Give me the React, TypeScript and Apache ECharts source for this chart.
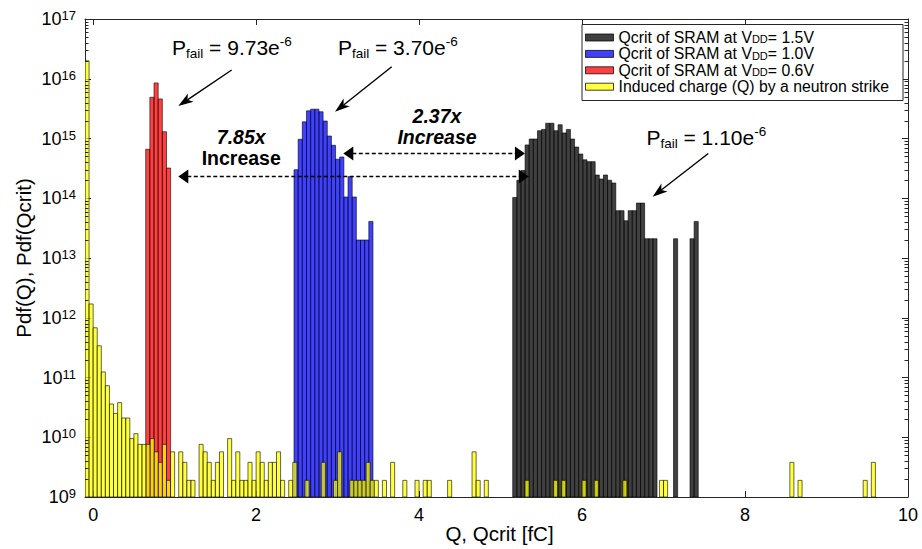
import React, { useEffect, useRef } from "react";
import * as echarts from "echarts";

const FONT = '"Liberation Sans", Arial, Helvetica, sans-serif';
const FRAME = "#262626";

// Axis ranges
const X_MIN = -0.1;
const X_MAX = 10;
const Y_MIN = 1e9;
const Y_MAX = 1e17;
const xTickValues = [0, 2, 4, 6, 8, 10];

// Induced charge histogram (bin width 0.05 fC, first bin starts at -0.1 fC); null = empty bin
const yellowStart = -0.1;
const yellowWidth = 0.05;
const yellowValues: (number | null)[] = [
  2.0e16, 1.7e12, 6.8e11, 3.4e11, 1.24e11, 7.3e10, 3.6e10, 2.5e10, 3.8e10, 2.1e10,
  2.1e10, 9.5e9, 1.15e10, 7.6e9, 7.6e9, 7.6e9, 9.5e9, 5.7e9, 3.8e9, 7.6e9,
  1.9e9, 5.7e9, null, 5.7e9, 3.8e9, 1.9e9, 1.9e9, null, 7.6e9, 5.7e9,
  3.8e9, 1.9e9, 3.8e9, 5.7e9, null, 9.5e9, 1.9e9, 5.7e9, 1.9e9, 1.9e9,
  3.8e9, 1.9e9, 5.7e9, 3.8e9, 1.9e9, 3.8e9, 3.8e9, 5.7e9, 1.9e9, null,
  1.9e9, 3.8e9, null, null, 1.9e9, null, null, null, 3.8e9, null,
  null, 1.9e9, 5.7e9, null, null, 1.9e9, 1.9e9, 1.9e9, 1.9e9, 3.8e9,
  1.9e9, 1.9e9, null, 1.9e9, null, 3.8e9, null, null, 1.9e9, null,
  null, 1.9e9, null, 1.9e9, 1.9e9, null, null, null, null, 1.9e9,
  null, null, null, null, null, 5.7e9, 1.9e9, null, 1.9e9, null,
  null, null, null, null, null, null, null, null, 1.9e9, null,
  null, null, null, null, null, 1.9e9, null, 1.9e9, null, null,
  null, null, 1.9e9, null, null, 1.9e9, null, null, null, null,
  null, null, 1.9e9, null, null, null, null, null, null, null,
  null, 1.9e9, 1.9e9, null, null, null, null, null, null, null,
  null, null, null, null, null, null, null, null, null, null,
  null, null, null, null, null, null, null, null, null, null,
  null, null, null, 3.8e9, null, 1.9e9, null, null, null, null,
  null, null, null, null, null, null, null, null, null, null,
  null, 1.9e9, null, 3.8e9,
];

// Qcrit histograms
const redStart = 0.645;
const redWidth = 0.051;
const redValues: (number | null)[] = [6.6e14, 4.9e15, 8.5e15, 4.6e15, 1.3e15, 3.2e14];

const blueStart = 2.465;
const blueWidth = 0.051;
const blueValues: (number | null)[] = [
  3.0e14, 9.7e14, 1.9e15, 2.9e15, 3.1e15, 3.1e15, 2.8e15, 1.96e15, 1.1e15, 7.7e14,
  4.5e14, 4.9e14, 1.05e14, 2.3e14, 1.05e14, 2.0e13, 2.0e13, 2.0e13, 4.1e13,
];

const blackStart = 5.149;
const blackWidth = 0.0506;
const blackValues: (number | null)[] = [
  1.03e14, 2.0e14, 2.9e14, 7.8e14, 9.8e14, 9.8e14, 1.35e15, 1.42e15, 1.8e15, 1.8e15,
  1.35e15, 1.7e15, 1.24e15, 1.42e15, 9.8e14, 7.2e14, 5.5e14, 4.4e14, 4.1e14, 4.1e14,
  2.45e14, 2.1e14, 2.45e14, 2.0e14, 1.8e14, 6.2e13, 6.2e13, 4.2e13, 6.2e13, 6.2e13,
  8.3e13, 8.3e13, 2.1e13, 2.1e13, 2.1e13, null, null, null, null, 2.1e13,
  null, null, null, 2.1e13, 4.1e13,
];

const seriesNames = [
  "Qcrit of SRAM at VDD= 1.5V",
  "Qcrit of SRAM at VDD= 1.0V",
  "Qcrit of SRAM at VDD= 0.6V",
  "Induced charge (Q) by a neutron strike",
];

// Annotations, anchored in data coordinates [Q, pdf]
const pfailLabels = [
  { value: "9.73e", at: [0.968, 3.3e16] },
  { value: "3.70e", at: [3.004, 3.3e16] },
  { value: "1.10e", at: [6.79, 1.05e15] },
];
const pfailArrows = [
  { from: [1.7, 1.4e16], to: [1.045, 3.5e15] },
  { from: [3.664, 1.59e16], to: [2.968, 2.8e15] },
  { from: [7.549, 5.6e14], to: [6.866, 1.06e14] },
];
const spanArrows = [
  { from: 1.045, to: 5.346, level: 2.38e14 },
  { from: 3.07, to: 5.299, level: 5.65e14 },
];
const ratioLabels = [
  { ratio: "7.85x", at: [1.817, 7.0e14], italicWord: false },
  { ratio: "2.37x", at: [4.22, 1.59e15], italicWord: true },
];

const EDGE = "rgba(0,0,0,0.75)";
const FILLS = ["rgba(0,0,0,0.75)", "rgba(0,0,255,0.75)", "rgba(255,0,0,0.75)", "rgba(255,255,0,0.75)"];

function histogram(start: number, width: number, values: (number | null)[]) {
  const out: number[][] = [];
  values.forEach((v, i) => {
    if (v != null) out.push([start + i * width, start + (i + 1) * width, v]);
  });
  return out;
}

function barRenderer(fill: string) {
  return (_params: any, api: any) => {
    const top = api.coord([api.value(0), api.value(2)]);
    const bottom = api.coord([api.value(1), Y_MIN]);
    return {
      type: "rect",
      shape: { x: top[0], y: top[1], width: bottom[0] - top[0], height: bottom[1] - top[1] },
      style: { fill, stroke: EDGE, lineWidth: 0.8 },
    };
  };
}

function buildOption() {
  const hist = [
    histogram(blackStart, blackWidth, blackValues),
    histogram(blueStart, blueWidth, blueValues),
    histogram(redStart, redWidth, redValues),
    histogram(yellowStart, yellowWidth, yellowValues),
  ];
  const axisLine = { show: true, onZero: false, lineStyle: { color: FRAME, width: 1 } };
  const tick = { show: true, inside: true, length: 6, lineStyle: { color: FRAME, width: 1 } };
  return {
    animation: false,
    backgroundColor: "#fff",
    textStyle: { fontFamily: FONT },
    grid: { left: 85, right: 14, top: 19, bottom: 52, containLabel: false },
    xAxis: [
      {
        type: "value",
        position: "bottom",
        min: X_MIN,
        max: X_MAX,
        splitLine: { show: false },
        axisLine,
        axisTick: { ...tick, customValues: xTickValues },
        axisLabel: {
          customValues: xTickValues,
          fontSize: 18,
          color: "#000",
          fontFamily: FONT,
          margin: 9,
        },
      },
      {
        type: "value",
        position: "top",
        min: X_MIN,
        max: X_MAX,
        splitLine: { show: false },
        axisLine,
        axisTick: { ...tick, customValues: xTickValues },
        axisLabel: { show: false },
      },
    ],
    yAxis: [
      {
        type: "log",
        logBase: 10,
        position: "left",
        min: Y_MIN,
        max: Y_MAX,
        splitNumber: 8,
        splitLine: { show: false },
        axisLine,
        axisTick: tick,
        axisLabel: {
          margin: 9,
          formatter: (v: number) => `{b|10}{sup|${Math.round(Math.log10(v))}}`,
          rich: {
            b: { fontSize: 18, lineHeight: 20, color: "#000", fontFamily: FONT },
            sup: { fontSize: 13, lineHeight: 11, verticalAlign: "top", color: "#000", fontFamily: FONT },
          },
        },
      },
      {
        type: "log",
        logBase: 10,
        position: "right",
        min: Y_MIN,
        max: Y_MAX,
        splitNumber: 8,
        splitLine: { show: false },
        axisLine,
        axisTick: tick,
        axisLabel: { show: false },
      },
    ],
    legend: {
      orient: "vertical",
      left: 585,
      top: 29.5,
      padding: 0,
      itemGap: 0.4,
      itemWidth: 28,
      itemHeight: 7,
      icon: "rect",
      selectedMode: false,
      z: 10,
      data: seriesNames.map((name, i) => ({
        name,
        itemStyle: { color: FILLS[i], borderColor: EDGE, borderWidth: 1 },
      })),
      formatter: (name: string) => name.replace("VDD", "V{sub|DD}"),
      textStyle: {
        fontSize: 15.8,
        lineHeight: 14.4,
        color: "#000",
        fontFamily: FONT,
        rich: {
          sub: { fontSize: 11, lineHeight: 8, verticalAlign: "bottom", color: "#000", fontFamily: FONT },
        },
      },
    },
    series: hist.map((data, i) => ({
      type: "custom",
      name: seriesNames[i],
      xAxisIndex: 0,
      yAxisIndex: 0,
      z: 2,
      clip: true,
      itemStyle: { color: FILLS[i], borderColor: EDGE },
      encode: { x: [0, 1], y: 2 },
      data,
      renderItem: barRenderer(FILLS[i]),
    })),
  };
}

function headPoints(tip: number[], from: number[], len: number, half: number, notch: number) {
  const dx0 = tip[0] - from[0];
  const dy0 = tip[1] - from[1];
  const d = Math.hypot(dx0, dy0) || 1;
  const dx = dx0 / d;
  const dy = dy0 / d;
  const nx = -dy;
  const ny = dx;
  const bx = tip[0] - dx * len;
  const by = tip[1] - dy * len;
  return [
    [tip[0], tip[1]],
    [bx + nx * half, by + ny * half],
    [tip[0] - dx * (len - notch), tip[1] - dy * (len - notch)],
    [bx - nx * half, by - ny * half],
  ];
}

function buildGraphics(chart: echarts.ECharts) {
  const toPx = (p: number[]) =>
    chart.convertToPixel({ xAxisIndex: 0, yAxisIndex: 0 }, p) as unknown as number[];
  const els: any[] = [];
  const left = toPx([X_MIN, Y_MIN])[0];
  const right = toPx([X_MAX, Y_MIN])[0];

  // legend frame
  els.push({
    type: "rect",
    z: 3,
    shape: { x: 582, y: 24.5, width: 321, height: 76 },
    style: { fill: "#fff", stroke: FRAME, lineWidth: 1 },
  });

  // minor ticks of the log axis, on both sides
  for (let e = 9; e < 17; e++) {
    for (let m = 2; m <= 9; m++) {
      const y = Math.round(toPx([0, m * Math.pow(10, e)])[1]) + 0.5;
      els.push({ type: "line", z: 4, shape: { x1: left, y1: y, x2: left + 3.5, y2: y }, style: { stroke: FRAME, lineWidth: 1 } });
      els.push({ type: "line", z: 4, shape: { x1: right - 3.5, y1: y, x2: right, y2: y }, style: { stroke: FRAME, lineWidth: 1 } });
    }
  }

  const pfailRich = {
    b: { fontSize: 21, fontFamily: FONT, fill: "#000", lineHeight: 26 },
    sub: { fontSize: 13.5, fontFamily: FONT, fill: "#000", lineHeight: 14, verticalAlign: "bottom" },
    sup: { fontSize: 13.5, fontFamily: FONT, fill: "#000", lineHeight: 20, verticalAlign: "top" },
  };
  pfailLabels.forEach((l) => {
    const p = toPx(l.at);
    els.push({
      type: "text",
      z: 10,
      x: p[0],
      y: p[1],
      style: {
        text: `{b|P}{sub|fail}{b| = ${l.value}}{sup|-6}`,
        rich: pfailRich,
        align: "left",
        verticalAlign: "middle",
        textAlign: "left",
        textVerticalAlign: "middle",
      },
    });
  });

  pfailArrows.forEach((a) => {
    const from = toPx(a.from);
    const tip = toPx(a.to);
    const head = headPoints(tip, from, 15, 5, 4);
    els.push({
      type: "line",
      z: 10,
      shape: { x1: from[0], y1: from[1], x2: head[2][0], y2: head[2][1] },
      style: { stroke: "#000", lineWidth: 1.4 },
    });
    els.push({ type: "polygon", z: 10, shape: { points: head }, style: { fill: "#000" } });
  });

  spanArrows.forEach((s) => {
    const a = toPx([s.from, s.level]);
    const b = toPx([s.to, s.level]);
    const y = Math.round(a[1]) + 0.5;
    els.push({
      type: "line",
      z: 10,
      shape: { x1: a[0] + 9, y1: y, x2: b[0] - 9, y2: y },
      style: { stroke: "#000", lineWidth: 1.3, lineDash: [4, 2.5] },
    });
    els.push({ type: "polygon", z: 10, shape: { points: headPoints([a[0], y], [b[0], y], 10, 7, 0) }, style: { fill: "#000" } });
    els.push({ type: "polygon", z: 10, shape: { points: headPoints([b[0], y], [a[0], y], 10, 7, 0) }, style: { fill: "#000" } });
  });

  ratioLabels.forEach((r) => {
    const p = toPx(r.at);
    els.push({
      type: "text",
      z: 10,
      x: p[0],
      y: p[1],
      style: {
        text: `{r|${r.ratio}}\n{w|Increase}`,
        rich: {
          r: { fontSize: 19.5, fontWeight: "bold", fontStyle: "italic", fontFamily: FONT, fill: "#000", lineHeight: 21 },
          w: {
            fontSize: 19.5,
            fontWeight: "bold",
            fontStyle: r.italicWord ? "italic" : "normal",
            fontFamily: FONT,
            fill: "#000",
            lineHeight: 21,
          },
        },
        align: "center",
        verticalAlign: "middle",
        textAlign: "center",
        textVerticalAlign: "middle",
      },
    });
  });

  // axis titles
  els.push({
    type: "text",
    z: 10,
    x: (left + right) / 2 + 3,
    y: 533,
    style: {
      text: "Q, Qcrit [fC]",
      fontSize: 20.5,
      fontFamily: FONT,
      fill: "#000",
      align: "center",
      verticalAlign: "middle",
      textAlign: "center",
      textVerticalAlign: "middle",
    },
  });
  els.push({
    type: "text",
    z: 10,
    x: 23,
    y: 258,
    rotation: Math.PI / 2,
    style: {
      text: "Pdf(Q), Pdf(Qcrit)",
      fontSize: 20.5,
      fontFamily: FONT,
      fill: "#000",
      align: "center",
      verticalAlign: "middle",
      textAlign: "center",
      textVerticalAlign: "middle",
    },
  });
  return els;
}

export default function App() {
  const ref = useRef<HTMLDivElement>(null);
  useEffect(() => {
    if (!ref.current) return;
    const chart = echarts.init(ref.current, null, { renderer: "svg" });
    chart.setOption(buildOption() as any);
    chart.setOption({ graphic: { elements: buildGraphics(chart) } } as any);
    return () => chart.dispose();
  }, []);
  return (
    <div
      ref={ref}
      style={{ position: "fixed", left: 0, top: 0, width: 922, height: 549, background: "#fff" }}
    />
  );
}
